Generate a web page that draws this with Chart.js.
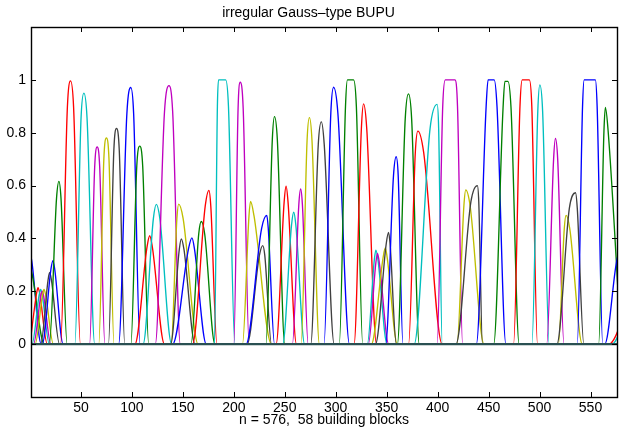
<!DOCTYPE html>
<html>
<head>
<meta charset="utf-8">
<script src="https://cdn.jsdelivr.net/npm/chart.js@4.4.1/dist/chart.umd.min.js"></script>
<style>
  body { margin: 0; background: #fff; }
</style>
</head>
<body>
<canvas id="bupu" width="621" height="429"></canvas>
<script>
// building blocks:
// foot left, shoulder left (90% of height), top start, top end, height, shoulder right, foot right
var blockLeft =          [-11, -13, 0, 2, 3.5, 5, 10.5, 12, 19, 30, 44, 58.5, 67.5, 77, 87, 99, 103, 111, 123, 138.5,
                          138, 140, 158, 159.5, 181, 200, 208.5, 213, 212, 231.5, 241.5, 248, 257.5, 266, 275.5, 288.5, 303.5, 318, 331, 332,
                          335, 339, 349, 360.5, 371.5, 377, 399.5, 419, 418, 438, 455, 474.5, 492.5, 507, 518.5, 517, 537, 558];
var blockShoulderLeft =  [-1.9, -2.7, 6.5, 9.0, 10.5, 12.3, 17.8, 20.6, 26.1, 36.7, 50.1, 63.5, 72.5, 82.3, 95.1, 104.8, 114.9, 121.1, 132.0, 144.2,
                          146.5, 155.6, 165.6, 172.0, 183.9, 204.2, 214.9, 225.1, 227.3, 237.8, 249.4, 256.6, 263.8, 271.9, 282.9, 295.2, 309.6, 325.2, 337.9, 339.4,
                          346.5, 349.6, 356.7, 368.2, 378.1, 392.6, 405.0, 425.8, 432.7, 447.6, 464.2, 480.8, 498.3, 513.8, 524.3, 529.3, 542.2, 563.2];
var blockTopStart =      [0, -0.5, 7.9, 10.5, 12, 13.8, 19.3, 22.5, 28.4, 39.8, 52.9, 65.9, 75, 84.9, 98.9, 107.7, 117.5, 124, 136.4, 145.9,
                          148.5, 158.9, 168.1, 175.6, 185, 206.3, 216.4, 228.4, 232.4, 239.9, 251.3, 258.8, 265.6, 274.2, 285.9, 297.9, 311.5, 327.3, 339.4, 341,
                          348.6, 351.8, 359.3, 371.4, 380.6, 399.5, 407.5, 427.6, 439, 449.5, 466, 483, 500.3, 515.6, 526, 535.3, 543.8, 564.6];
var blockTopEnd =        [0, -0.5, 7.9, 10.5, 12, 13.8, 19.3, 22.5, 28.4, 39.8, 52.9, 65.9, 75, 84.9, 98.9, 107.7, 117.5, 124, 136.4, 145.9,
                          148.5, 158.9, 168.1, 175.6, 192, 206.3, 216.4, 228.4, 232.4, 239.9, 251.3, 258.8, 265.6, 274.2, 285.9, 297.9, 317.5, 327.3, 339.4, 341,
                          348.6, 351.8, 359.3, 371.4, 380.6, 399.5, 417, 427.6, 439, 455.5, 469, 490, 500.3, 515.6, 526, 535.3, 554.8, 564.6];
var blockHeight =        [0.345, 0.295, 0.214, 0.207, 0.2, 0.207, 0.271, 0.316, 0.616, 0.996, 0.95, 0.746, 0.78, 0.816, 0.971, 0.749, 0.41, 0.529, 0.978, 0.53,
                          0.398, 0.402, 0.464, 0.582, 1.0, 0.991, 0.54, 0.373, 0.487, 0.861, 0.598, 0.499, 0.587, 0.857, 0.841, 0.972, 1.0, 0.909, 0.356, 0.343,
                          0.364, 0.423, 0.709, 0.947, 0.806, 0.907, 1.0, 0.584, 0.6, 1.0, 0.994, 1.0, 0.981, 0.778, 0.487, 0.573, 1.0, 0.896];
var blockShoulderRight = [1.9, 2.05, 9.5, 12.0, 13.5, 15.4, 21.0, 24.25, 30.4, 42.8, 56.0, 68.4, 77.5, 87.6, 101.7, 110.6, 120.0, 127.4, 140.0, 150.2,
                          151.1, 161.35, 171.4, 177.4, 194.75, 209.2, 219.8, 230.4, 233.8, 242.7, 253.2, 260.9, 267.3, 276.7, 288.7, 302.1, 320.25, 330.4, 341.4, 342.75,
                          350.5, 353.3, 361.3, 374.5, 386.3, 401.0, 419.5, 431.8, 440.35, 458.25, 472.0, 492.4, 503.0, 517.8, 529.6, 537.0, 556.5, 567.3];
var blockRight =         [11, 14, 17, 19, 20.5, 23, 29, 32.5, 36.5, 49.5, 63.5, 73.5, 82.5, 93, 108, 116.5, 132, 139, 147.5, 165,
                          162, 173, 181.5, 183.5, 201, 215, 237, 237, 240, 250, 261.5, 269.5, 273, 284, 298.5, 313.5, 326.5, 340, 350.5, 352,
                          360.5, 359.5, 366, 382, 404.5, 404.5, 424.5, 445.5, 444, 467, 480, 498, 509.5, 524, 542, 543.5, 562, 580];

// pieces that come back in at the right edge
var edgeColour =        [0, 2, 3];
var edgeLeft =          [564, 568, 571];
var edgeShoulderLeft =  [575.5, 590.1, 590.8];
var edgePeak =          [578, 595, 595];
var edgeHeight =        [0.345, 0.2, 0.2];
var edgeShoulderRight = [581.5, 599.2, 599.2];
var edgeRight =         [590, 620, 620];

var xMin = 1, xMax = 576;
var yMin = -0.2, yMax = 1.2;
var xTickValues = [50, 100, 150, 200, 250, 300, 350, 400, 450, 500, 550];
var yTickValues = [0, 0.2, 0.4, 0.6, 0.8, 1];

var chartTitle = 'irregular Gauss\u2013type BUPU';
var xAxisTitle = 'n = 576,  58 building blocks';

var matlabColours = ['#0000ff', '#008000', '#ff0000', '#00bfbf', '#bf00bf', '#bfbf00', '#404040'];
var fontFamily = '"Liberation Sans", Arial, Helvetica, sans-serif';

function bumpPoints(left, shoulderLeft, topStart, topEnd, height, shoulderRight, right) {
  var pts = [];
  if (left > xMin) pts.push({x: xMin, y: 0});
  pts.push({x: left, y: 0});
  pts.push({x: shoulderLeft, y: height * 0.9});
  pts.push({x: topStart, y: height});
  if (topEnd > topStart) pts.push({x: topEnd, y: height});
  pts.push({x: shoulderRight, y: height * 0.9});
  pts.push({x: right, y: 0});
  if (right < xMax) pts.push({x: xMax, y: 0});
  return pts;
}

var datasets = [];
for (var i = 0; i < blockLeft.length; i++) {
  datasets.push({
    data: bumpPoints(blockLeft[i], blockShoulderLeft[i], blockTopStart[i], blockTopEnd[i],
                     blockHeight[i], blockShoulderRight[i], blockRight[i]),
    borderColor: matlabColours[i % 7],
    order: blockLeft.length - i + 5
  });
}
for (var j = 0; j < edgeLeft.length; j++) {
  datasets.push({
    data: bumpPoints(edgeLeft[j], edgeShoulderLeft[j], edgePeak[j], edgePeak[j],
                     edgeHeight[j], edgeShoulderRight[j], edgeRight[j]),
    borderColor: matlabColours[edgeColour[j]],
    order: 5 - j
  });
}
// the common zero level, where all blocks sit on top of each other
datasets.push({
  data: [{x: xMin, y: 0}, {x: xMax, y: 0}],
  borderColor: '#2a5052',
  borderWidth: 2.2,
  order: -1
});

// MATLAB style box with inward ticks on all four sides
var matlabBox = {
  id: 'matlabBox',
  afterDraw: function(chart) {
    var ctx = chart.ctx;
    var a = chart.chartArea;
    var xs = chart.scales.x, ys = chart.scales.y;
    ctx.save();
    ctx.strokeStyle = '#000';
    ctx.lineWidth = 1;
    ctx.beginPath();
    xs.ticks.forEach(function(t) {
      var px = Math.round(xs.getPixelForValue(t.value)) + 0.5;
      ctx.moveTo(px, a.bottom); ctx.lineTo(px, a.bottom - 5);
      ctx.moveTo(px, a.top); ctx.lineTo(px, a.top + 5);
    });
    ys.ticks.forEach(function(t) {
      var py = Math.round(ys.getPixelForValue(t.value)) + 0.5;
      ctx.moveTo(a.left, py); ctx.lineTo(a.left + 5, py);
      ctx.moveTo(a.right, py); ctx.lineTo(a.right - 5, py);
    });
    ctx.stroke();
    ctx.lineWidth = 1.4;
    ctx.strokeRect(Math.round(a.left) + 0.5, Math.round(a.top) + 0.5,
      Math.round(a.right - a.left), Math.round(a.bottom - a.top));
    ctx.restore();
  }
};

var canvas = document.getElementById('bupu');
var chart = new Chart(canvas, {
  type: 'line',
  data: { datasets: datasets },
  plugins: [matlabBox],
  options: {
    responsive: false,
    animation: false,
    events: [],
    layout: { padding: { left: 0, right: 4, top: 0, bottom: 0 } },
    elements: {
      point: { radius: 0 },
      line: {
        borderWidth: 1.35,
        cubicInterpolationMode: 'monotone',
        capBezierPoints: false,
        fill: false
      }
    },
    plugins: {
      legend: { display: false },
      tooltip: { enabled: false },
      title: {
        display: true,
        text: chartTitle,
        color: '#000',
        font: { family: fontFamily, size: 14, weight: 'normal' },
        padding: { top: 4.5, bottom: 5.7 }
      }
    },
    scales: {
      x: {
        type: 'linear',
        min: xMin,
        max: xMax,
        grid: { display: false, drawTicks: false },
        border: { display: false },
        afterBuildTicks: function(scale) {
          scale.ticks = xTickValues.map(function(v) { return {value: v}; });
        },
        afterFit: function(scale) { scale.height = 32; },
        ticks: {
          autoSkip: false,
          maxRotation: 0,
          padding: 3,
          color: '#000',
          font: { family: fontFamily, size: 14 }
        },
        title: {
          display: true,
          text: xAxisTitle,
          color: '#000',
          font: { family: fontFamily, size: 14 },
          padding: { top: 0, bottom: 0 }
        }
      },
      y: {
        type: 'linear',
        min: yMin,
        max: yMax,
        grid: { display: false, drawTicks: false },
        border: { display: false },
        afterBuildTicks: function(scale) {
          scale.ticks = yTickValues.map(function(v) { return {value: v}; });
        },
        afterFit: function(scale) { scale.width = 31; },
        ticks: {
          padding: 5,
          color: '#000',
          font: { family: fontFamily, size: 14 },
          callback: function(v) { return String(Math.round(v * 10) / 10); }
        }
      }
    }
  }
});
</script>
</body>
</html>
